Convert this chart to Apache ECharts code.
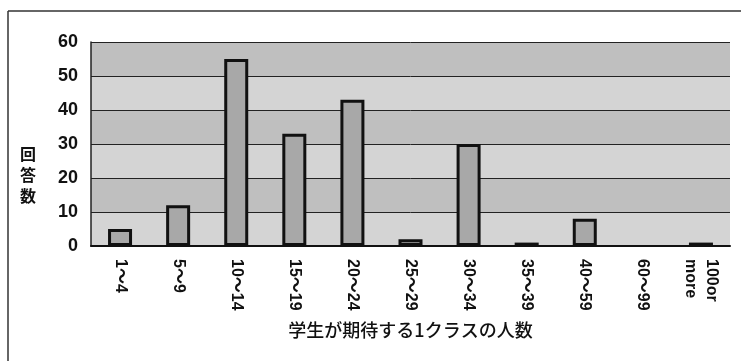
<!DOCTYPE html>
<html>
<head>
<meta charset="utf-8">
<script src="https://cdn.jsdelivr.net/npm/echarts@6/dist/echarts.min.js"></script>
<style>
html,body{margin:0;padding:0;background:#fff;}
#c{width:741px;height:361px;}
</style>
</head>
<body>
<div id="c"></div>
<script>
const categories = ['1～4','5～9','10～14','15～19','20～24','25～29','30～34','35～39','40～59','60～99','100or\nmore'];
const counts = [5, 12, 55, 33, 43, 2, 30, 1, 8, 0, 1];
const yTicks = [0, 10, 20, 30, 40, 50, 60];
const xTitle = '学生が期待する1クラスの人数';
const yTitle = '回\n答\n数';

const chart = echarts.init(document.getElementById('c'), null, {renderer: 'canvas'});
chart.setOption({
  animation: false,
  backgroundColor: '#ffffff',
  grid: {left: 91, right: 11, top: 42, bottom: 115},
  graphic: [
    {type: 'line', shape: {x1: 8, y1: 11, x2: 741, y2: 11}, style: {stroke: '#333', lineWidth: 1.5}},
    {type: 'line', shape: {x1: 8, y1: 11, x2: 8, y2: 361}, style: {stroke: '#333', lineWidth: 1.5}},
    {type: 'text', left: 20, top: 143, style: {text: yTitle, font: 'bold 16px "Noto Sans CJK JP"', fill: '#111', lineHeight: 21}}
  ],
  xAxis: {
    type: 'category',
    data: categories,
    name: xTitle,
    nameLocation: 'middle',
    nameGap: 75,
    nameTextStyle: {fontFamily: 'Noto Sans CJK JP', fontSize: 18, fontWeight: 500, color: '#111'},
    axisLine: {lineStyle: {color: '#111', width: 2}},
    axisTick: {inside: true, length: 4, lineStyle: {color: '#111'}},
    axisLabel: {
      rotate: -90, margin: 13, interval: 0,
      fontFamily: 'Liberation Sans, Noto Sans CJK JP', fontWeight: 'bold', fontSize: 16, color: '#111',
      lineHeight: 21
    }
  },
  yAxis: {
    type: 'value',
    min: yTicks[0], max: yTicks[yTicks.length - 1], interval: 10,
    axisLine: {show: true, lineStyle: {color: '#222', width: 1.5}},
    axisTick: {show: false},
    axisLabel: {margin: 13, fontFamily: 'Liberation Sans', fontWeight: 'bold', fontSize: 18, color: '#111'},
    splitLine: {lineStyle: {color: '#222', width: 1}},
    splitArea: {show: true, areaStyle: {color: ['#d4d4d4', '#bfbfbf']}}
  },
  series: [{
    type: 'bar',
    data: counts.map(v => v === 0 ? '-' : v),
    barWidth: 24,
    itemStyle: {color: '#a8a8a8', borderColor: '#111', borderWidth: 3}
  }]
});
</script>
</body>
</html>
